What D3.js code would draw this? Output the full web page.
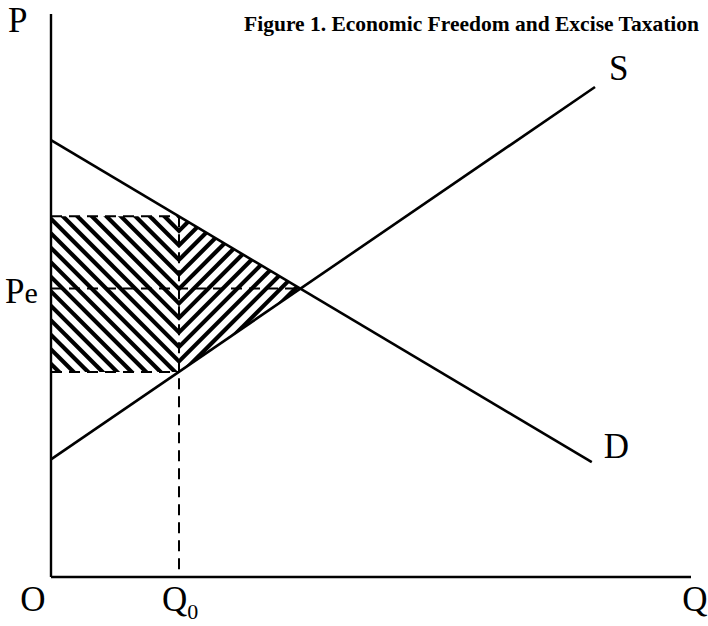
<!DOCTYPE html>
<html>
<head>
<meta charset="utf-8">
<script src="https://cdn.jsdelivr.net/npm/d3@7"></script>
<style>
  html, body { margin: 0; padding: 0; background: #fff; }
  svg { display: block; }
</style>
</head>
<body>
<svg id="chart" width="708" height="626"></svg>
<script>
// Supply / demand diagram with an excise tax wedge.
const titleText = "Figure 1. Economic Freedom and Excise Taxation";

// Curve endpoints (quantity, price) in diagram units.
const demandPoints = [{q: 0, p: 7.8}, {q: 8.45, p: 2.05}];
const supplyPoints = [{q: 0, p: 2.1}, {q: 8.5, p: 8.75}];

// Key quantities and prices.
const qTax = 2.0;          // Q0, quantity traded under the tax
const qEq = 3.9;           // equilibrium quantity
const pEq = 5.15;          // Pe, equilibrium price
const pBuyers = 6.44;      // price paid by buyers at Q0
const pSellers = 3.66;     // price received by sellers at Q0

const axisMax = {q: 10, p: 10};

const svg = d3.select("#chart");
const x = d3.scaleLinear().domain([0, axisMax.q]).range([51, 691]);
const y = d3.scaleLinear().domain([0, axisMax.p]).range([577, 17]);

const serif = "'Liberation Serif', 'Times New Roman', serif";
const line = d3.line().x(d => x(d.q)).y(d => y(d.p));

// ---- hatching ----
const defs = svg.append("defs");
defs.append("clipPath").attr("id", "clipRect")
  .append("rect")
  .attr("x", x(0)).attr("y", y(pBuyers))
  .attr("width", x(qTax) - x(0)).attr("height", y(pSellers) - y(pBuyers));
defs.append("clipPath").attr("id", "clipTri")
  .append("path")
  .attr("d", line([{q: qTax, p: pBuyers}, {q: qEq, p: pEq}, {q: qTax, p: pSellers}]) + "Z");

const x0 = x(qTax), yTop = y(pBuyers);
const step = 14.5;
const ks = d3.range(-30, 40);
const hatchW = 4.2;

svg.append("g").attr("clip-path", "url(#clipRect)")
  .selectAll("line").data(ks).join("line")
  .attr("x1", x0 - 400).attr("y1", k => yTop + k * step - 400)
  .attr("x2", x0 + 10).attr("y2", k => yTop + k * step + 10)
  .attr("stroke", "#000").attr("stroke-width", hatchW);

svg.append("g").attr("clip-path", "url(#clipTri)")
  .selectAll("line").data(ks).join("line")
  .attr("x1", x0 - 10).attr("y1", k => yTop + k * step + 10)
  .attr("x2", x0 + 400).attr("y2", k => yTop + k * step - 400)
  .attr("stroke", "#000").attr("stroke-width", hatchW);

// ---- dashed guides ----
const dash = "11,7";
const guides = [
  {x1: 0, y1: pBuyers, x2: qTax, y2: pBuyers},
  {x1: 0, y1: pEq, x2: qEq, y2: pEq},
  {x1: 0, y1: pSellers, x2: qTax, y2: pSellers},
  {x1: qTax, y1: pBuyers, x2: qTax, y2: 0}
];
svg.append("g").selectAll("line").data(guides).join("line")
  .attr("x1", d => x(d.x1)).attr("y1", d => y(d.y1))
  .attr("x2", d => x(d.x2)).attr("y2", d => y(d.y2))
  .attr("stroke", "#000").attr("stroke-width", 2)
  .attr("stroke-dasharray", dash);

// ---- curves ----
svg.append("path").attr("d", line(demandPoints))
  .attr("fill", "none").attr("stroke", "#000").attr("stroke-width", 2.6);
svg.append("path").attr("d", line(supplyPoints))
  .attr("fill", "none").attr("stroke", "#000").attr("stroke-width", 2.6);

// ---- axes ----
svg.append("line")
  .attr("x1", x(0)).attr("y1", y(0)).attr("x2", x(0)).attr("y2", y(axisMax.p) - 3)
  .attr("stroke", "#000").attr("stroke-width", 2.4);
svg.append("line")
  .attr("x1", x(0)).attr("y1", y(0)).attr("x2", x(axisMax.q)).attr("y2", y(0))
  .attr("stroke", "#000").attr("stroke-width", 2.4);

// ---- labels ----
const big = 35;
function label(txt, px, py, size, anchor) {
  return svg.append("text").attr("x", px).attr("y", py)
    .attr("font-family", serif).attr("font-size", size)
    .attr("text-anchor", anchor || "start").text(txt);
}
label("P", 8, 32, big);
label("O", 33, 611, big, "middle");
label("Q", 695, 611, big, "middle");
const q0 = label("Q", x(qTax) - 17, 611, big);
q0.append("tspan").attr("font-size", 22).attr("dy", 8).text("0");
const pe = label("P", 5, y(pEq) + 14, big);
pe.append("tspan").attr("font-size", 30).text("e");
label("S", x(supplyPoints[1].q) + 14, 80, big);
label("D", x(demandPoints[1].q) + 12, 458, big);

svg.append("text").attr("x", 699).attr("y", 31)
  .attr("font-family", serif).attr("font-size", 21.5).attr("font-weight", "bold")
  .attr("text-anchor", "end")
  .text(titleText);
</script>
</body>
</html>
